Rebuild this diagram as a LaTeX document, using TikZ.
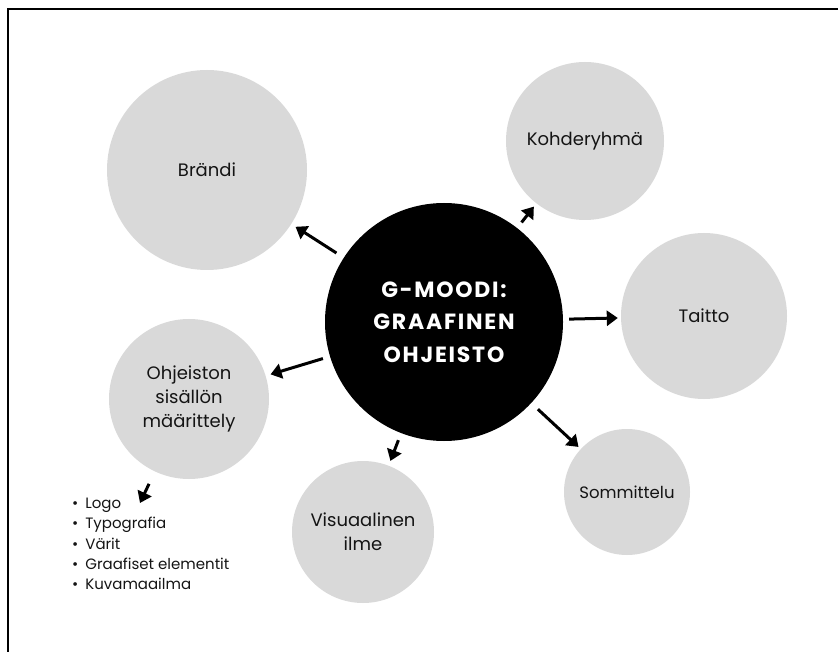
\documentclass[tikz,border=0pt]{standalone}
\usepackage{fontspec}
\setmainfont{Poppins}
\usetikzlibrary{arrows.meta}
\definecolor{Bubble}{HTML}{D9D9D9}
\definecolor{Ink}{HTML}{141414}

\begin{document}
\begin{tikzpicture}[x=1pt,y=-1pt,
    bubble/.style={circle,fill=Bubble,text=Ink,inner sep=0pt,align=center,font=\fontsize{18}{24}\selectfont},
    hub/.style={circle,fill=black,text=white,inner sep=0pt,align=center,font=\fontsize{22}{32.5}\selectfont\bfseries\addfontfeatures{LetterSpace=8}},
    items/.style={inner sep=0pt,align=left,text=Ink,font=\fontsize{15}{20.25}\selectfont},
    arr/.style={-{Triangle[length=11pt,width=15pt]},line width=3pt}]
    \useasboundingbox (0,0) rectangle (838,652);
    \draw[line width=2pt] (8,652) -- (8,9) -- (838,9);
    % the hub and the topics round it
    \node[hub,minimum size=238pt] (moodi) at (444,322) {G-MOODI:\\GRAAFINEN\\OHJEISTO};
    \node[bubble,minimum size=200pt] (brandi) at (207,170) {Brändi};
    \node[bubble,minimum size=158pt] (kohde) at (585,141) {Kohderyhmä};
    \node[bubble,minimum size=166pt] (taitto) at (704,316) {Taitto};
    \node[bubble,minimum size=160pt] (ohjeet) at (189,399) {Ohjeiston\\sisällön\\määrittely};
    \node[bubble,minimum size=142pt] (ilme) at (363,532) {Visuaalinen\\ilme};
    \node[bubble,minimum size=126pt,font=\fontsize{16.5}{22}\selectfont] (sommittelu) at (627,492) {Sommittelu};
    \draw[arr,shorten <=8.6pt,shorten >=5pt] (moodi) -- (brandi);
    \draw[arr,shorten <=7pt,shorten >=4pt] (moodi) -- (kohde);
    \draw[arr,shorten <=6pt,shorten >=3pt] (moodi) -- (taitto);
    \draw[arr,shorten <=7.3pt,shorten >=5pt] (moodi) -- (ohjeet);
    \draw[arr,shorten <=7.5pt,shorten >=5pt] (moodi) -- (ilme);
    \draw[arr,shorten <=9pt,shorten >=3pt] (moodi) -- (sommittelu);
    % content list
    \node[items,anchor=west] (sisalto) at (72,544) {\textbullet\hspace{7pt}Logo\\\textbullet\hspace{7pt}Typografia\\\textbullet\hspace{7pt}Värit\\\textbullet\hspace{7pt}Graafiset elementit\\\textbullet\hspace{7pt}Kuvamaailma};
    \coordinate (logokarki) at (140,503);
    \draw[arr,shorten <=13.6pt] (ohjeet) -- (logokarki);
\end{tikzpicture}
\end{document}
